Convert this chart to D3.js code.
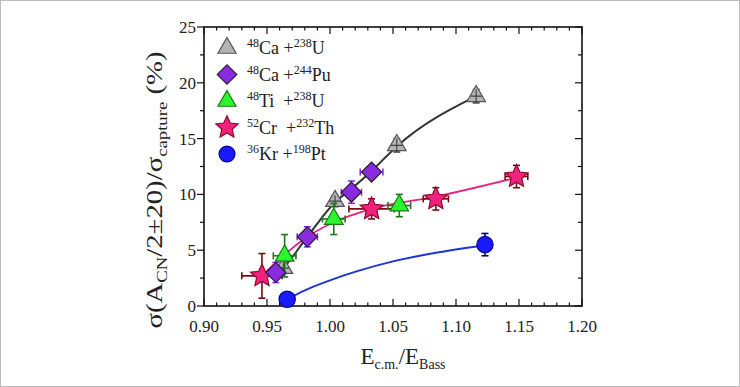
<!DOCTYPE html>
<html>
<head>
<meta charset="utf-8">
<script src="https://cdn.jsdelivr.net/npm/d3@7"></script>
<style>
  body { margin: 0; background: #fff; }
  svg text { font-family: "Liberation Serif", "Times New Roman", serif; }
  .tick-label { font-size: 17px; fill: #222; }
  .axis-title { font-size: 23px; fill: #222; }
  .legend-text { font-size: 18px; fill: #222; }
</style>
</head>
<body>
<div id="chart"></div>
<script>
////////////////////////////////////////////////////////////
///////////////////////// Data /////////////////////////////
////////////////////////////////////////////////////////////

// each point: x, y, x error, y error
var caU  = [[0.963, 3.4, 0.003, 0.5], [1.004, 9.4, 0.003, 0.5], [1.053, 14.4, 0.003, 0.6], [1.116, 18.8, 0.003, 0.6]];
var caPu = [[0.957, 3.0, 0.006, 0.9], [0.982, 6.2, 0.008, 0.9], [1.017, 10.2, 0.008, 1.0], [1.033, 12.0, 0.009, 0]];
var tiU  = [[0.964, 4.5, 0.009, 1.9], [1.003, 7.8, 0.009, 1.4], [1.055, 9.0, 0.009, 1.0]];
var crTh = [[0.946, 2.7, 0.016, 2.0], [1.033, 8.7, 0.018, 0.9], [1.084, 9.6, 0.01, 1.0], [1.148, 11.6, 0.009, 1.0]];
var krPt = [[0.966, 0.6, 0, 0], [1.123, 5.5, 0, 1.0]];

// guide curves
var caUCurve = [[0.956, 2.6], [0.963, 3.4], [0.982, 6.2], [1.004, 9.3], [1.017, 10.5], [1.033, 12.1], [1.053, 14.3], [1.116, 18.8]];
var crThCurve = [[0.946, 2.7], [0.964, 4.6], [0.982, 6.2], [1.003, 7.5], [1.033, 8.7], [1.084, 9.8], [1.148, 11.5]];
var krPtCurve = [[0.966, 0.6], [0.98, 1.4], [1.0, 2.3], [1.021, 3.1], [1.05, 4.0], [1.083, 4.75], [1.123, 5.45]];

var xTicks = [0.90, 0.95, 1.00, 1.05, 1.10, 1.15, 1.20];
var yTicks = [0, 5, 10, 15, 20, 25];

var legendItems = [
	{a: "48", p: "Ca", b: "238", t: "U",  sym: "triangle", fill: "#b4b4b4", stroke: "#555"},
	{a: "48", p: "Ca", b: "244", t: "Pu", sym: "diamond",  fill: "#8a2be2", stroke: "#222"},
	{a: "48", p: "Ti\u00a0", b: "238", t: "U",  sym: "triangle", fill: "#2bf52b", stroke: "#1a7a1a"},
	{a: "52", p: "Cr\u00a0", b: "232", t: "Th", sym: "star",     fill: "#f0227d", stroke: "#8b0a2a"},
	{a: "36", p: "Kr", b: "198", t: "Pt", sym: "circle",   fill: "#1a1aff", stroke: "#00008b"}
];

////////////////////////////////////////////////////////////
//////////////////////// Set-up ////////////////////////////
////////////////////////////////////////////////////////////

var W = 740, H = 387;
var svg = d3.select("#chart").append("svg").attr("width", W).attr("height", H);

svg.append("rect")
	.attr("x", 0.5).attr("y", 0.5).attr("width", W - 1).attr("height", H - 1)
	.style("fill", "#fff").style("stroke", "#bcbcbc");

var x = d3.scaleLinear().domain([0.90, 1.20]).range([204, 582]);
var y = d3.scaleLinear().domain([0, 25]).range([306, 27]);

////////////////////////////////////////////////////////////
///////////////////////// Axes /////////////////////////////
////////////////////////////////////////////////////////////

var frame = svg.append("g");
frame.append("rect")
	.attr("x", x(0.90)).attr("y", y(25))
	.attr("width", x(1.20) - x(0.90)).attr("height", y(0) - y(25))
	.style("fill", "none").style("stroke", "#111").style("stroke-width", 1.6);

var xMinor = d3.range(90, 121).map(function(d) { return d / 100; });
var yMinor = d3.range(0, 26, 2.5);

//bottom and top ticks point inward
[y(0), y(25)].forEach(function(y0, k) {
	var dir = k === 0 ? -1 : 1;
	frame.selectAll(null)
		.data(xMinor)
		.enter().append("line")
		.attr("x1", function(d) { return x(d); })
		.attr("x2", function(d) { return x(d); })
		.attr("y1", y0)
		.attr("y2", function(d) { return y0 + dir * (Math.round(d * 100) % 5 === 0 ? 7 : 3.5); })
		.style("stroke", "#111").style("stroke-width", 1.2);
});

//left ticks outward, right ticks inward
frame.selectAll(null)
	.data(yMinor)
	.enter().append("line")
	.attr("x1", x(0.90))
	.attr("x2", function(d) { return x(0.90) - (d % 5 === 0 ? 7 : 4); })
	.attr("y1", function(d) { return y(d); })
	.attr("y2", function(d) { return y(d); })
	.style("stroke", "#111").style("stroke-width", 1.2);

frame.selectAll(null)
	.data(yMinor)
	.enter().append("line")
	.attr("x1", x(1.20))
	.attr("x2", function(d) { return x(1.20) - (d % 5 === 0 ? 7 : 4); })
	.attr("y1", function(d) { return y(d); })
	.attr("y2", function(d) { return y(d); })
	.style("stroke", "#111").style("stroke-width", 1.2);

frame.selectAll(".x-label")
	.data(xTicks)
	.enter().append("text")
	.attr("class", "tick-label")
	.attr("font-family", "Liberation Serif")
	.attr("x", function(d) { return x(d); })
	.attr("y", 332)
	.attr("text-anchor", "middle")
	.text(function(d) { return d.toFixed(2); });

frame.selectAll(".y-label")
	.data(yTicks)
	.enter().append("text")
	.attr("class", "tick-label")
	.attr("font-family", "Liberation Serif")
	.attr("x", 196)
	.attr("y", function(d) { return y(d); })
	.attr("dy", "0.35em")
	.attr("text-anchor", "end")
	.text(function(d) { return d; });

//Axis titles
var xTitle = svg.append("text")
	.attr("class", "axis-title")
	.attr("x", 403).attr("y", 364)
	.attr("text-anchor", "middle");
xTitle.append("tspan").text("E");
xTitle.append("tspan").attr("font-size", "14px").attr("dy", 5).text("c.m.");
xTitle.append("tspan").attr("dy", -5).text("/E");
xTitle.append("tspan").attr("font-size", "14px").attr("dy", 5).text("Bass");

//the y title in the picture is stretched along its length
var yTitle = svg.append("text")
	.attr("class", "axis-title")
	.attr("transform", "translate(162,190)rotate(-90)scale(1.25,1)")
	.attr("text-anchor", "middle");
yTitle.append("tspan").text("\u03c3(A");
yTitle.append("tspan").attr("font-size", "15px").attr("dy", 5).text("CN");
yTitle.append("tspan").attr("dy", -5).text("/2\u00b120)/\u03c3");
yTitle.append("tspan").attr("font-size", "15px").attr("dy", 5).text("capture");
yTitle.append("tspan").attr("dy", -5).text(" (%)");

////////////////////////////////////////////////////////////
//////////////////////// Curves ////////////////////////////
////////////////////////////////////////////////////////////

var line = d3.line()
	.x(function(d) { return x(d[0]); })
	.y(function(d) { return y(d[1]); })
	.curve(d3.curveMonotoneX);

svg.append("path").datum(caUCurve).attr("d", line)
	.style("fill", "none").style("stroke", "#333").style("stroke-width", 2);
svg.append("path").datum(crThCurve).attr("d", line)
	.style("fill", "none").style("stroke", "#e8237f").style("stroke-width", 1.8);
svg.append("path").datum(krPtCurve).attr("d", line)
	.style("fill", "none").style("stroke", "#1c35d6").style("stroke-width", 2);

////////////////////////////////////////////////////////////
//////////////////////// Points ////////////////////////////
////////////////////////////////////////////////////////////

//a plumper five-point star than d3.symbolStar
function starPath(r) {
	var ri = r * 0.47, pts = [];
	for (var i = 0; i < 10; i++) {
		var a = -Math.PI / 2 + i * Math.PI / 5, rr = i % 2 ? ri : r;
		pts.push([rr * Math.cos(a), rr * Math.sin(a)]);
	}
	return "M" + pts.join("L") + "Z";
}

function symbolPath(sym, scale) {
	var s = scale || 1;
	if (sym === "triangle") return d3.symbol(d3.symbolTriangle, 150 * s)();
	if (sym === "diamond") return d3.symbol(d3.symbolSquare, 200 * s)();
	if (sym === "star") return starPath(12 * Math.sqrt(s));
	return d3.symbol(d3.symbolCircle, 210 * s)();
}

function drawSeries(data, item, errColor) {
	var g = svg.append("g");
	var cap = 3.5;
	var eb = g.selectAll(".err")
		.data(data)
		.enter().append("g")
		.style("stroke", errColor).style("stroke-width", 1.6).style("fill", "none");
	eb.filter(function(d) { return d[2] > 0; }).each(function(d) {
		var sel = d3.select(this);
		sel.append("line").attr("x1", x(d[0] - d[2])).attr("x2", x(d[0] + d[2])).attr("y1", y(d[1])).attr("y2", y(d[1]));
		[-1, 1].forEach(function(s) {
			sel.append("line").attr("x1", x(d[0] + s * d[2])).attr("x2", x(d[0] + s * d[2]))
				.attr("y1", y(d[1]) - cap).attr("y2", y(d[1]) + cap);
		});
	});
	eb.filter(function(d) { return d[3] > 0; }).each(function(d) {
		var sel = d3.select(this);
		sel.append("line").attr("x1", x(d[0])).attr("x2", x(d[0])).attr("y1", y(d[1] - d[3])).attr("y2", y(d[1] + d[3]));
		[-1, 1].forEach(function(s) {
			sel.append("line").attr("y1", y(d[1] + s * d[3])).attr("y2", y(d[1] + s * d[3]))
				.attr("x1", x(d[0]) - cap).attr("x2", x(d[0]) + cap);
		});
	});
	g.selectAll(".pt")
		.data(data)
		.enter().append("path")
		.attr("d", symbolPath(item.sym))
		.attr("transform", function(d) {
			return "translate(" + x(d[0]) + "," + y(d[1]) + ")" + (item.sym === "diamond" ? "rotate(45)" : "");
		})
		.style("fill", item.fill).style("stroke", item.stroke).style("stroke-width", 1.2);
	//gray triangles show their small error cross on top
	if (item.sym === "triangle" && item.fill === "#b4b4b4") {
		g.selectAll(".in-err")
			.data(data)
			.enter().append("path")
			.attr("d", function(d) {
				return "M" + x(d[0]) + "," + y(d[1] + d[3]) + "V" + y(d[1] - d[3]) +
					"M" + (x(d[0] - d[2]) - 2) + "," + y(d[1]) + "H" + (x(d[0] + d[2]) + 2);
			})
			.style("stroke", "#444").style("stroke-width", 1.2).style("fill", "none");
	}
}

drawSeries(caU, legendItems[0], "#444");
drawSeries(crTh, legendItems[3], "#7a0a10");
drawSeries(tiU, legendItems[2], "#1a7a1a");
drawSeries(caPu, legendItems[1], "#8a2be2");
drawSeries(krPt, legendItems[4], "#00008b");

////////////////////////////////////////////////////////////
//////////////////////// Legend ////////////////////////////
////////////////////////////////////////////////////////////

var legend = svg.append("g").attr("transform", "translate(227,48)");
var rows = legend.selectAll(".row")
	.data(legendItems)
	.enter().append("g")
	.attr("transform", function(d, i) { return "translate(0," + (i * 26.5) + ")"; });

rows.append("path")
	.attr("d", function(d) { return symbolPath(d.sym, 0.95); })
	.attr("transform", function(d) { return d.sym === "diamond" ? "rotate(45)" : null; })
	.style("fill", function(d) { return d.fill; })
	.style("stroke", function(d) { return d.stroke; })
	.style("stroke-width", 1.2);

var lt = rows.append("text")
	.attr("class", "legend-text")
	.attr("font-family", "Liberation Serif")
	.attr("x", 20)
	.attr("y", 6);
lt.append("tspan").attr("font-size", "12px").attr("dy", -7).text(function(d) { return d.a; });
lt.append("tspan").attr("dy", 7).text(function(d) { return d.p + " +"; });
lt.append("tspan").attr("font-size", "12px").attr("dy", -7).text(function(d) { return d.b; });
lt.append("tspan").attr("dy", 7).text(function(d) { return d.t; });
</script>
</body>
</html>
